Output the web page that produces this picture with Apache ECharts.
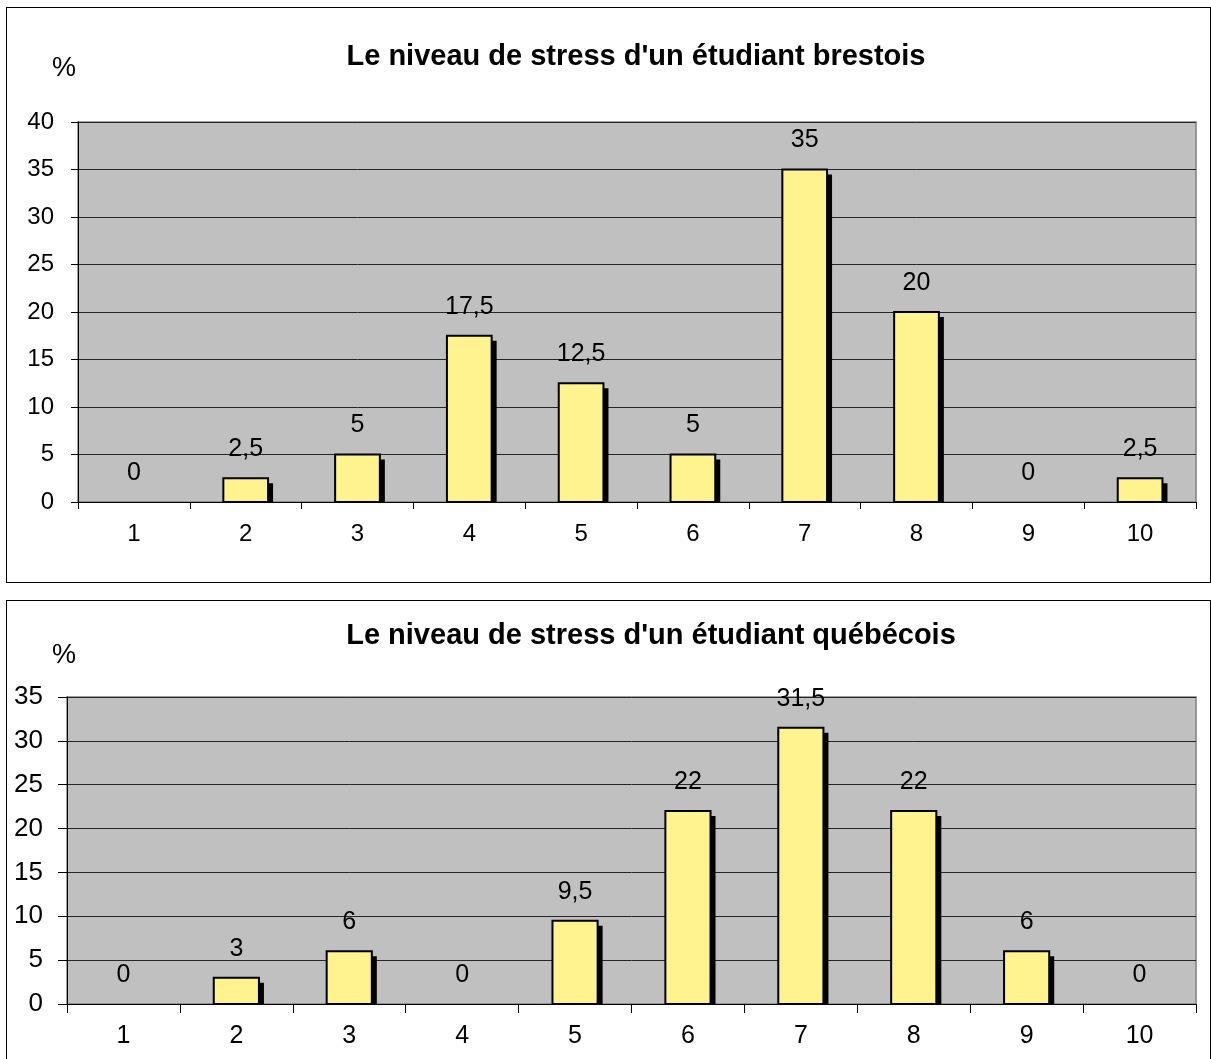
<!DOCTYPE html>
<html>
<head>
<meta charset="utf-8">
<script src="https://cdn.jsdelivr.net/npm/echarts@6/dist/echarts.min.js"></script>
<style>
  body { margin: 0; background: #fff; overflow: hidden; width: 1211px; height: 1059px; }
  .panel { position: absolute; border: 1px solid #000; background: #fff; }
  #top { left: 6px; top: 7px; width: 1203px; height: 574px; }
  #bottom { left: 6px; top: 600px; width: 1203px; height: 520px; }
</style>
</head>
<body>
<div id="top" class="panel"></div>
<div id="bottom" class="panel"></div>
<script>
var levels = ["1", "2", "3", "4", "5", "6", "7", "8", "9", "10"];
var brestois = [0, 2.5, 5, 17.5, 12.5, 5, 35, 20, 0, 2.5];
var quebecois = [0, 3, 6, 0, 9.5, 22, 31.5, 22, 6, 0];
var ticksBrest = [0, 40, 5];   // min, max, interval
var ticksQuebec = [0, 35, 5];

var FONT = "'Liberation Sans', Arial, sans-serif";

function renderItem(params, api) {
  var v = api.value(1);
  var topPt = api.coord([api.value(0), v]);
  var basePt = api.coord([api.value(0), 0]);
  var w = api.size([1, 0])[0] * 0.4;
  var x = topPt[0] - w / 2;
  var h = basePt[1] - topPt[1];
  var children = [];
  if (v > 0) {
    // ombre portée noire
    children.push({
      type: "rect",
      shape: { x: x + 5, y: topPt[1] + 5, width: w, height: h - 5 },
      style: { fill: "#000" }
    });
    children.push({
      type: "rect",
      shape: { x: x, y: topPt[1], width: w, height: h },
      style: { fill: "#FFF38F", stroke: "#000", lineWidth: 2 }
    });
  }
  children.push({
    type: "text",
    x: topPt[0],
    y: topPt[1] - 29,
    style: {
      text: String(v).replace(".", ","),
      fill: "#000",
      fontSize: 25,
      fontFamily: FONT,
      align: "center",
      verticalAlign: "middle"
    }
  });
  return { type: "group", children: children };
}

function makeOption(title, values, ticks, g, t) {
  return {
    animation: false,
    textStyle: { fontFamily: FONT },
    graphic: [
      {
        type: "text",
        x: t.tx, y: t.ty,
        style: {
          text: title, fill: "#000", fontSize: 29, fontWeight: "bold",
          fontFamily: FONT, align: "center", verticalAlign: "middle"
        }
      },
      {
        type: "text",
        x: t.px, y: t.py,
        style: {
          text: "%", fill: "#000", fontSize: 27,
          fontFamily: FONT, align: "left", verticalAlign: "middle"
        }
      }
    ],
    grid: {
      left: g.left, top: g.top, width: g.width, height: g.height,
      show: true,
      backgroundColor: "#C0C0C0",
      borderColor: "#808080",
      borderWidth: 1.5
    },
    xAxis: {
      type: "category",
      data: levels,
      axisLine: { lineStyle: { color: "#000", width: 1 } },
      axisTick: { show: true, length: t.tick, lineStyle: { color: "#000" } },
      axisLabel: { color: "#000", fontSize: t.xfs, fontFamily: FONT, margin: 20 },
      splitLine: { show: false }
    },
    yAxis: {
      type: "value",
      min: ticks[0], max: ticks[1], interval: ticks[2],
      axisLine: { show: true, lineStyle: { color: "#000", width: 1 } },
      axisTick: { show: true, length: t.tick, lineStyle: { color: "#000" } },
      axisLabel: { color: "#000", fontSize: t.yfs, fontFamily: FONT, margin: 24 },
      splitLine: { show: true, lineStyle: { color: "#262626", width: 1 } }
    },
    series: [
      {
        type: "custom",
        renderItem: renderItem,
        encode: { x: 0, y: 1 },
        data: values.map(function (v, i) { return [i, v]; })
      }
    ]
  };
}

var chartTop = echarts.init(document.getElementById("top"));
chartTop.setOption(makeOption(
  "Le niveau de stress d'un étudiant brestois", brestois, ticksBrest,
  { left: 71, top: 114, width: 1118, height: 380 },
  { tx: 629, ty: 49, px: 45, py: 61, tick: 7, xfs: 24, yfs: 24 }
));

var chartBottom = echarts.init(document.getElementById("bottom"));
chartBottom.setOption(makeOption(
  "Le niveau de stress d'un étudiant québécois", quebecois, ticksQuebec,
  { left: 60, top: 96, width: 1129, height: 307 },
  { tx: 644, ty: 35, px: 45, py: 55, tick: 9, xfs: 25, yfs: 26 }
));
</script>
</body>
</html>
